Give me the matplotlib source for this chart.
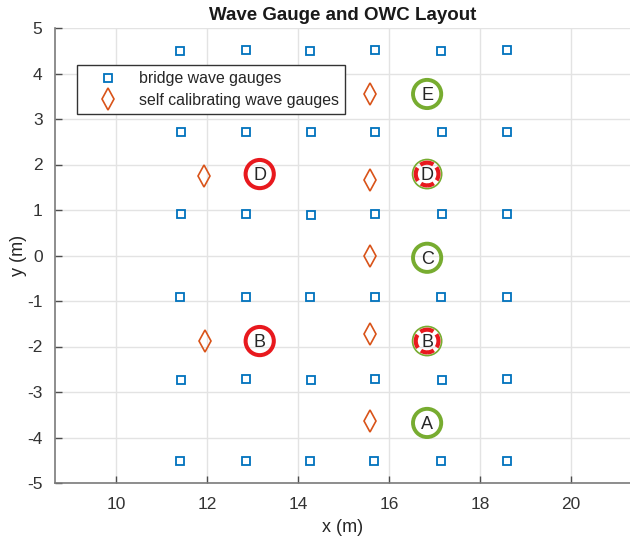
import matplotlib
matplotlib.use("Agg")
import matplotlib.pyplot as plt
from matplotlib.patches import Circle

plt.rcParams['font.family'] = ['Liberation Sans', 'DejaVu Sans']
plt.rcParams['axes.unicode_minus'] = False

# bridge wave gauges (6 rows x 6 columns)
bridge_x = [11.41, 12.86, 14.26, 15.69, 17.14, 18.59,
            11.43, 12.86, 14.29, 15.69, 17.16, 18.59,
            11.43, 12.86, 14.29, 15.69, 17.16, 18.59,
            11.41, 12.86, 14.26, 15.69, 17.14, 18.59,
            11.43, 12.86, 14.29, 15.69, 17.16, 18.59,
            11.41, 12.86, 14.26, 15.67, 17.14, 18.59]
bridge_y = [4.49, 4.52, 4.49, 4.52, 4.49, 4.52,
            2.71, 2.71, 2.71, 2.71, 2.71, 2.71,
            0.91, 0.91, 0.89, 0.91, 0.91, 0.91,
            -0.91, -0.91, -0.91, -0.91, -0.91, -0.91,
            -2.74, -2.71, -2.74, -2.71, -2.74, -2.71,
            -4.52, -4.52, -4.52, -4.52, -4.52, -4.52]

# self calibrating wave gauges
selfcal_x = [15.58, 15.58, 15.58, 15.58, 15.58, 11.93, 11.96]
selfcal_y = [3.55, 1.66, 0.0, -1.73, -3.64, 1.75, -1.87]

# OWC positions
owc_labels = ['E', 'D', 'C', 'B', 'A', 'D', 'B']
owc_x = [16.84, 16.84, 16.84, 16.84, 16.84, 13.16, 13.16]
owc_y = [3.55, 1.79, -0.05, -1.88, -3.68, 1.79, -1.88]
owc_type = ['green', 'mixed', 'green', 'mixed', 'green', 'red', 'red']

fig = plt.figure(figsize=(6.3, 5.41), dpi=100)
ax = fig.add_axes([55/630, 58/541, 575/630, 455/541])

ax.plot(bridge_x, bridge_y, 's', mfc='none', mec='#0072BD', ms=6.3, mew=1.3,
        label='bridge wave gauges', zorder=3)
ax.plot(selfcal_x, selfcal_y, 'd', mfc='none', mec='#D95319', ms=11, mew=1.2,
        label='self calibrating wave gauges', zorder=3)

for lab, x, y, t in zip(owc_labels, owc_x, owc_y, owc_type):
    if t == 'green':
        ax.add_patch(Circle((x, y), 0.31, fill=False, ec='#77AC30', lw=2.8, zorder=4))
    elif t == 'red':
        ax.add_patch(Circle((x, y), 0.31, fill=False, ec='#E8191E', lw=2.9, zorder=4))
    else:
        ax.add_patch(Circle((x, y), 0.32, fill=False, ec='#77AC30', lw=1.2, zorder=4))
        ax.add_patch(Circle((x, y), 0.25, fill=False, ec='#E8191E', lw=3.0,
                            ls=(1.6, (3.3, 1.0)), zorder=4))
    ax.text(x, y - 0.03, lab, ha='center', va='center', fontsize=13,
            color='#262626', zorder=5)

ax.set_xlim(8.66, 21.3)
ax.set_ylim(-5, 5)
ax.set_xticks([10, 12, 14, 16, 18, 20])
ax.set_yticks(range(-5, 6))
ax.grid(True, color='#e3e3e3', lw=1)
ax.set_axisbelow(True)
for s in ['top', 'right']:
    ax.spines[s].set_visible(False)
for s in ['left', 'bottom']:
    ax.spines[s].set_color('#7a7a7a')
    ax.spines[s].set_linewidth(1.2)
ax.tick_params(colors='#333333', labelsize=12.5, direction='in', length=5,
               width=1, color='#4d4d4d')
ax.tick_params(axis='x', pad=10)
ax.tick_params(axis='y', pad=9)
ax.set_xlabel('x (m)', fontsize=13, color='#262626', labelpad=5)
ax.set_ylabel('y (m)', fontsize=13, color='#262626', labelpad=0)
ax.set_title('Wave Gauge and OWC Layout', fontsize=13.5, fontweight='bold',
             color='#1a1a1a', pad=6)

leg = ax.legend(loc='upper left', bbox_to_anchor=(77/630, 1 - 65/541),
                bbox_transform=fig.transFigure, fontsize=11.4, frameon=True,
                fancybox=False, edgecolor='#333333', framealpha=1,
                borderpad=0.4, handletextpad=0.42, handlelength=3.1,
                labelspacing=0.4, borderaxespad=0)
leg.get_frame().set_linewidth(1)
for t in leg.get_texts():
    t.set_color('#262626')

fig.savefig('out.png', dpi=100)
